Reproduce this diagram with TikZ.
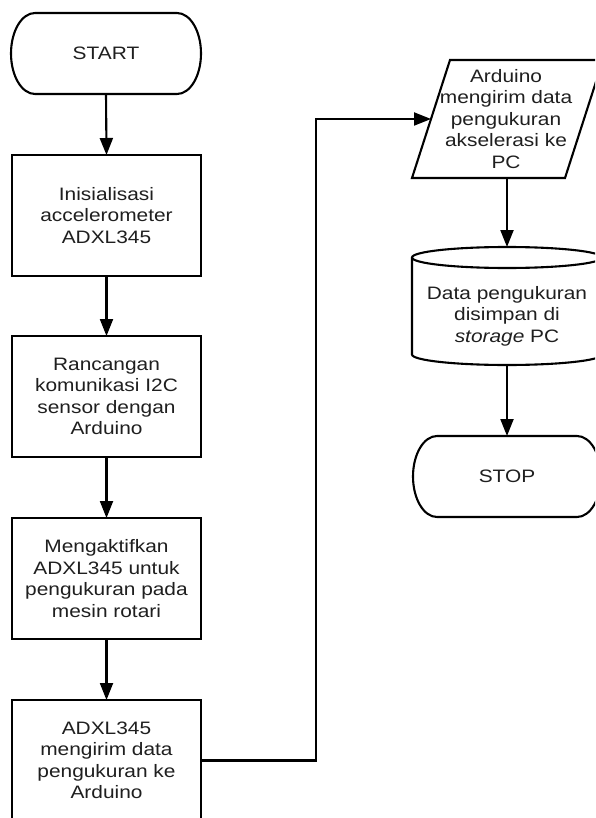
\documentclass[tikz,border=0pt]{standalone}
\usepackage{fontspec}
\setmainfont{Liberation Sans}[FakeStretch=1.16]
\usetikzlibrary{arrows.meta}

\begin{document}
\begin{tikzpicture}[x=1pt,y=1pt,
  every node/.style={font=\fontsize{18}{21.5}\selectfont, align=center,
    text=black!88, inner sep=0pt, outer sep=0pt},
  flow/.style={line width=2.1pt, draw=black},
  procbox/.style={flow, minimum width=189pt, minimum height=121pt},
  termbox/.style={minimum width=190pt, minimum height=81pt},
  arrow/.style={flow, -{Triangle[width=13pt,length=17pt]}}]

% page frame
\useasboundingbox (0,0) rectangle (595,-818);
\fill[white] (0,0) rectangle (595,-818);
\clip (0,0) rectangle (595,-818);

% ---------- left column ----------
\node[termbox] (start) at (106,-53.5) {START};
\draw[flow] ([xshift=24pt]start.north west) -- ([xshift=-24pt]start.north east)
  arc[start angle=90,end angle=-90,x radius=24,y radius=40.5]
  -- ([xshift=24pt]start.south west)
  arc[start angle=270,end angle=90,x radius=24,y radius=40.5] -- cycle;

\node[procbox, draw] (init) at (106.5,-215.5) {Inisialisasi\\accelerometer\\ADXL345};
\node[procbox, draw] (i2c)  at (106.5,-396.5) {Rancangan\\komunikasi I2C\\sensor dengan\\Arduino};
\node[procbox, draw] (act)  at (106.5,-578.5) {Mengaktifkan\\ADXL345 untuk\\pengukuran pada\\mesin rotari};
\node[procbox, draw] (tx)   at (106.5,-760.5) {ADXL345\\mengirim data\\pengukuran ke\\Arduino};

% ---------- right column ----------
% data output (parallelogram)
\node[minimum width=150pt, minimum height=118pt] (send) at (506,-119)
  {Arduino\\mengirim data\\pengukuran\\akselerasi ke\\PC};
\draw[flow] (412,-178) -- (565,-178) -- (603,-60) -- (450,-60) -- cycle;
\coordinate (sendin) at (431,-119);

% storage (cylinder)
\node[minimum width=190pt, minimum height=98pt] (store) at (507,-316)
  {Data pengukuran\\disimpan di\\\textit{storage} PC};
\draw[flow] (412,-257.5) -- (412,-354.5)
  arc[start angle=180,end angle=360,x radius=95,y radius=10.5]
  -- (602,-257.5)
  arc[start angle=0,end angle=180,x radius=95,y radius=10.5] -- cycle;
\draw[flow] (412,-257.5) arc[start angle=180,end angle=360,x radius=95,y radius=10.5];

\node[termbox, minimum width=188pt] (stop) at (507,-476.5) {STOP};
\draw[flow] ([xshift=24pt]stop.north west) -- ([xshift=-24pt]stop.north east)
  arc[start angle=90,end angle=-90,x radius=24,y radius=40.5]
  -- ([xshift=24pt]stop.south west)
  arc[start angle=270,end angle=90,x radius=24,y radius=40.5] -- cycle;

% ---------- connectors ----------
\draw[arrow] (start.south) -- (init.north);
\draw[arrow] (init.south) -- (i2c.north);
\draw[arrow] (i2c.south) -- (act.north);
\draw[arrow] (act.south) -- (tx.north);
\coordinate (turn) at (316,-119);
\draw[arrow] (tx.east) -| (turn) -- (sendin);
\draw[arrow] (507,-178) -- ([yshift=20pt]store.north);
\draw[arrow] (store.south) -- (stop.north);
\end{tikzpicture}
\end{document}
